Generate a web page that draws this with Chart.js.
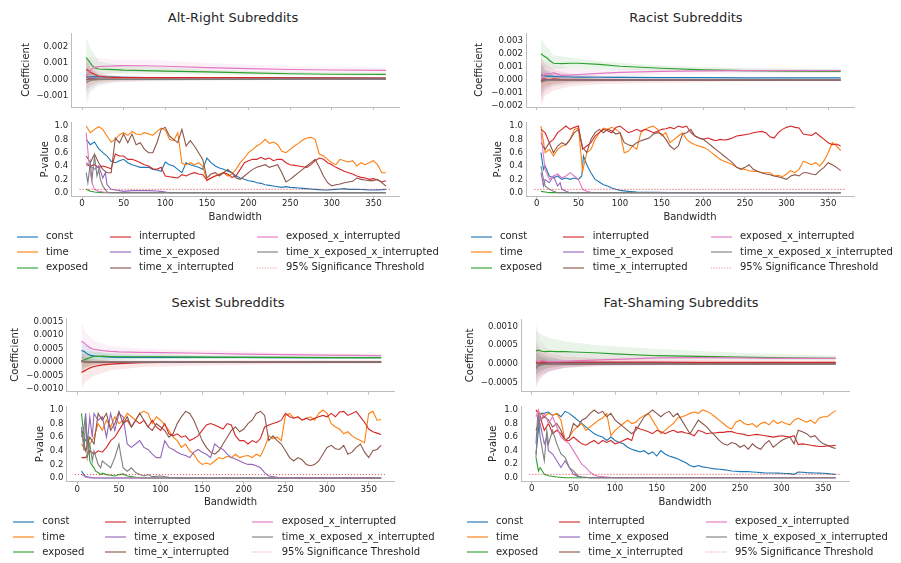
<!DOCTYPE html>
<html>
<head>
<meta charset="utf-8">
<script src="https://cdn.jsdelivr.net/npm/chart.js@4.4.1/dist/chart.umd.min.js"></script>
<style>
  html, body { margin: 0; padding: 0; background: #fff; }
  body { position: relative; width: 901px; height: 563px; overflow: hidden;
         font-family: "DejaVu Sans", sans-serif; color: #262626; }
  canvas { position: absolute; }
  .panel-title { position: absolute; font-size: 13px; line-height: 16px; white-space: nowrap;
                 transform: translateX(-50%); }
  .legend-text { position: absolute; font-size: 10px; line-height: 12px; white-space: nowrap; }
  .legend-line { position: absolute; }
</style>
</head>
<body>
<script>
// ---------- shared series description ----------
const seriesNames = ['const', 'time', 'exposed', 'interrupted', 'time_x_exposed',
  'time_x_interrupted', 'exposed_x_interrupted', 'time_x_exposed_x_interrupted'];
const palette = ['#1f77b4', '#ff7f0e', '#2ca02c', '#d62728', '#9467bd', '#8c564b', '#e377c2', '#7f7f7f'];
const thresholdLabel = '95% Significance Threshold';
const significanceLevel = 0.05;
const thresholdSpan = [-3, 370];

// bandwidth grids (days)
const bandwidths = [5,10,15,20,25,30,35,40,45,50,
  55,60,65,70,75,80,85,90,95,100,
  105,110,115,120,125,130,135,140,145,150,
  155,160,165,170,175,180,185,190,195,200,
  205,210,215,220,225,230,235,240,245,250,
  255,260,265,270,275,280,285,290,295,300,
  305,310,315,320,325,330,335,340,345,350,
  355,360,365];
const coefBandwidths = [5,8,12,16,20,30,40,50,75,100,150,200,250,300,365];
const bandBandwidths = [5,10,20,40,80,150,250,365];

const bandwidthTicks = [0,50,100,150,200,250,300,350];
const pvalueTicks = [0,0.2,0.4,0.6,0.8,1.0];

// ---------- Alt-Right ----------
const altRightCoefTicks = [-0.001,0,0.001,0.002];
const altRightCoef = [
  [0.00010,0.00013,0.00015,0.00016,0.00015,0.00014,0.00013,0.00012,0.00011,0.00010,0.00010,0.00009,0.00009,0.00008,0.00008],
  [0.00020,0.00010,0.00005,0.00003,0.00002,0.00001,0.00001,0,0,0,0,0,0,0,0],
  [0.00133,0.00115,0.00085,0.00068,0.00063,0.00061,0.00059,0.00056,0.00053,0.00050,0.00045,0.00039,0.00034,0.00031,0.00030],
  [0.00060,0.00052,0.00038,0.00028,0.00020,0.00014,0.00012,0.00011,0.00010,0.00010,0.00010,0.00010,0.00009,0.00009,0.00008],
  [0.00018,0.00009,0.00004,0.00002,0.00001,0,0,0,0,0,0,0,0,0,0],
  [-0.00005,0.00002,0.00001,0,0,0,0,0,0,0,0,0,0,0,0],
  [0.00020,0.00040,0.00065,0.00075,0.00078,0.00080,0.00082,0.00084,0.00083,0.00080,0.00072,0.00065,0.00060,0.00057,0.00055],
  [-0.00020,-0.00012,-0.00006,-0.00003,-0.00002,-0.00001,0,0,0,0,0,0,0,0,0]
];
const altRightLow = [
  [-0.0003,-0.0001,0,0.00004,0.00006,0.00007,0.00006,0.00006],
  [-0.0006,-0.0004,-0.0002,-0.0001,-0.00006,-0.00004,-0.00003,-0.00002],
  [0.0001,0.0003,0.0003,0.00035,0.00033,0.0003,0.00024,0.00021],
  [-0.0002,0,0,0.00003,0.00005,0.00006,0.00006,0.00005],
  [-0.0012,-0.0006,-0.0003,-0.00015,-0.0001,-0.00006,-0.00004,-0.00003],
  [-0.0008,-0.0004,-0.0002,-0.0001,-0.00006,-0.00004,-0.00003,-0.00002],
  [-0.0008,0,0.0003,0.0004,0.00045,0.0004,0.00038,0.00038],
  [-0.0016,-0.0008,-0.0004,-0.0002,-0.00012,-0.00008,-0.00005,-0.00004]
];
const altRightHigh = [
  [0.0005,0.0004,0.0003,0.00022,0.00016,0.00013,0.00011,0.0001],
  [0.0008,0.0005,0.0003,0.00015,0.00008,0.00005,0.00004,0.00003],
  [0.0026,0.0019,0.0011,0.0009,0.0008,0.0006,0.00045,0.0004],
  [0.0014,0.0009,0.0004,0.0002,0.00016,0.00014,0.00012,0.00011],
  [0.0014,0.0007,0.0003,0.00015,0.0001,0.00006,0.00004,0.00003],
  [0.0008,0.0004,0.0002,0.0001,0.00006,0.00004,0.00003,0.00002],
  [0.0012,0.0014,0.0013,0.0012,0.0012,0.001,0.0008,0.00072],
  [0.0012,0.0006,0.0003,0.00015,0.0001,0.00007,0.00005,0.00004]
];
// p-values: plain rows follow `bandwidths`, [bandwidth, p] rows are listed point by point
const altRightP = [
  [0.8,0.72,0.76,0.66,0.6,0.55,0.47,0.45,0.48,0.5,
   0.45,0.42,0.4,0.38,0.38,0.38,0.35,0.34,0.32,0.46,
   0.42,0.4,0.35,0.3,0.45,0.42,0.4,0.38,0.35,0.52,
   0.45,0.4,0.37,0.35,0.32,0.3,0.25,0.22,0.2,0.18,
   0.17,0.15,0.14,0.12,0.11,0.1,0.09,0.08,0.09,0.08,
   0.075,0.07,0.065,0.06,0.055,0.05,0.045,0.04,0.04,0.045,
   0.05,0.055,0.06,0.05,0.05,0.05,0.048,0.045,0.04,0.04,
   0.042,0.045,0.05],
  [1.0,0.9,0.95,0.99,0.95,0.85,0.76,0.8,0.87,0.9,
   0.86,0.92,0.88,0.87,0.9,0.88,0.86,0.92,0.97,0.94,
   0.8,0.78,0.9,0.44,0.42,0.45,0.42,0.45,0.4,0.18,
   0.22,0.25,0.28,0.3,0.25,0.28,0.35,0.45,0.52,0.6,
   0.65,0.7,0.74,0.8,0.74,0.76,0.72,0.62,0.6,0.65,
   0.7,0.74,0.79,0.82,0.83,0.8,0.58,0.55,0.5,0.45,
   0.42,0.5,0.48,0.46,0.48,0.4,0.45,0.42,0.45,0.48,
   0.42,0.3,0.3],
  [[5,0.05],[10,0.02],[15,0.01],[20,0.005],[25,0],[365,0]],
  [0.42,0.4,0.42,0.38,0.4,0.38,0.36,0.58,0.55,0.55,
   0.5,0.5,0.48,0.45,0.42,0.4,0.36,0.35,0.38,0.25,
   0.24,0.23,0.22,0.27,0.25,0.28,0.3,0.28,0.27,0.19,
   0.22,0.25,0.27,0.3,0.28,0.23,0.25,0.35,0.45,0.48,
   0.5,0.5,0.53,0.5,0.52,0.48,0.5,0.5,0.45,0.42,
   0.41,0.4,0.39,0.38,0.42,0.48,0.52,0.5,0.45,0.42,
   0.38,0.35,0.32,0.3,0.28,0.25,0.23,0.22,0.2,0.21,
   0.19,0.16,0.18],
  [[5,0.45],[10,0.4],[15,0.35],[20,0.4],[25,0.22],[28,0.3],[30,0.12],[35,0.05],[40,0.04],[50,0.02],
   [60,0.03],[70,0.03],[80,0.03],[90,0.025],[95,0.02],[100,0.01],[105,0],[365,0]],
  [0.55,0.45,0.58,0.45,0.35,0.3,0.3,0.82,0.75,0.88,
   0.75,0.88,0.72,0.75,0.65,0.6,0.6,0.75,0.95,0.98,
   0.85,0.8,0.75,0.95,0.7,0.78,0.7,0.6,0.5,0.22,
   0.28,0.3,0.25,0.3,0.35,0.3,0.22,0.2,0.25,0.3,
   0.35,0.38,0.4,0.42,0.38,0.4,0.42,0.3,0.16,0.2,
   0.25,0.3,0.35,0.4,0.45,0.5,0.38,0.25,0.15,0.1,
   0.12,0.13,0.15,0.16,0.17,0.22,0.2,0.19,0.18,0.18,
   0.2,0.15,0.1],
  [[5,0.9],[8,0.5],[10,0.3],[12,0.15],[15,0.05],[20,0.02],[25,0.01],[30,0],[365,0]],
  [[5,0.3],[7,0.15],[10,0.45],[12,0.2],[15,0.55],[18,0.25],[20,0.35],[22,0.2],[25,0.1],[28,0.05],
   [30,0.01],[35,0],[365,0]]
];

// ---------- Racist ----------
const racistCoefTicks = [-0.002,-0.001,0,0.001,0.002,0.003];
const racistCoef = [
  [0.00040,0.00032,0.00030,0.00030,0.00028,0.00025,0.00023,0.00022,0.00021,0.00020,0.00019,0.00018,0.00017,0.00017,0.00016],
  [0.00010,0.00005,0.00003,0.00002,0.00001,0,0,0,0,0,0,0,0,0,0],
  [0.00200,0.00185,0.00170,0.00145,0.00128,0.00125,0.00128,0.00128,0.00120,0.00105,0.00090,0.00078,0.00072,0.00068,0.00065],
  [-0.00010,0.00010,0.00005,0.00002,0.00008,0.00003,0.00002,0.00001,0.00001,0.00001,0,0,0,0,0],
  [0.00010,0.00005,0.00002,0.00001,0,0,0,0,0,0,0,0,0,0,0],
  [-0.00005,-0.00002,0,0,0,0,0,0,0,0,0,0,0,0,0],
  [0.00015,0.00035,0.00050,0.00045,0.00055,0.00035,0.00038,0.00042,0.00050,0.00058,0.00066,0.00070,0.00071,0.00071,0.00071],
  [-0.00015,-0.00008,-0.00004,-0.00002,-0.00001,0,0,0,0,0,0,0,0,0,0]
];
const racistLow = [
  [-0.0004,-0.0001,0,0.00008,0.0001,0.00012,0.00012,0.00012],
  [-0.0009,-0.0005,-0.0003,-0.00015,-0.0001,-0.00006,-0.00004,-0.00003],
  [0.0008,0.0009,0.0008,0.0009,0.0008,0.0007,0.0006,0.00054],
  [-0.0019,-0.0012,-0.0008,-0.0005,-0.0003,-0.0002,-0.00012,-0.0001],
  [-0.0012,-0.0007,-0.0004,-0.0002,-0.0001,-0.00006,-0.00004,-0.00003],
  [-0.0008,-0.0005,-0.0003,-0.00015,-0.0001,-0.00006,-0.00004,-0.00003],
  [-0.0014,-0.0006,-0.0002,0,0.0002,0.0004,0.0005,0.00055],
  [-0.0016,-0.0009,-0.0005,-0.0003,-0.00015,-0.0001,-0.00006,-0.00005]
];
const racistHigh = [
  [0.0012,0.0008,0.0006,0.0004,0.0003,0.00026,0.00022,0.0002],
  [0.0009,0.0005,0.0003,0.00015,0.0001,0.00006,0.00004,0.00003],
  [0.0032,0.0027,0.0019,0.0017,0.0014,0.0011,0.0009,0.0008],
  [0.0017,0.0012,0.0008,0.0005,0.0003,0.0002,0.00012,0.0001],
  [0.0012,0.0007,0.0004,0.0002,0.0001,0.00006,0.00004,0.00003],
  [0.0008,0.0005,0.0003,0.00015,0.0001,0.00006,0.00004,0.00003],
  [0.0018,0.0014,0.0012,0.0009,0.0008,0.0009,0.00088,0.00088],
  [0.0014,0.0008,0.0005,0.0003,0.00015,0.0001,0.00006,0.00005]
];
const racistP = [
  [[5,0.6],[8,0.35],[10,0.4],[15,0.25],[20,0.22],[25,0.25],[30,0.2],[35,0.22],[40,0.2],[45,0.22],
   [50,0.2],[54,0.25],[56,0.55],[60,0.42],[65,0.3],[70,0.2],[75,0.16],[80,0.12],[85,0.1],[90,0.07],
   [95,0.05],[100,0.035],[110,0.02],[120,0.01],[140,0.005],[160,0],[365,0]],
  [1.0,0.6,0.65,0.55,0.65,0.7,0.72,0.8,0.95,0.97,
   0.32,0.6,0.65,0.8,0.9,0.97,0.95,0.98,0.95,0.9,
   0.6,0.62,0.7,0.65,0.9,0.95,0.98,1.0,0.95,0.85,
   0.9,0.75,0.8,0.85,0.9,0.8,0.75,0.72,0.7,0.68,
   0.65,0.6,0.55,0.5,0.47,0.45,0.42,0.38,0.36,0.35,
   0.33,0.32,0.32,0.3,0.3,0.3,0.25,0.26,0.24,0.28,
   0.33,0.3,0.35,0.47,0.45,0.42,0.45,0.4,0.48,0.6,
   0.75,0.7,0.63],
  [[5,0.02],[10,0.01],[15,0],[365,0]],
  [0.95,0.9,0.75,0.8,0.9,0.95,1.0,0.95,0.98,1.0,
   0.65,0.7,0.75,0.85,0.9,0.95,0.93,0.9,0.98,1.0,
   0.95,0.9,0.92,0.95,0.92,0.95,0.93,0.9,0.92,0.95,
   0.96,0.98,0.96,1.0,0.98,1.0,0.9,0.85,0.82,0.8,
   0.82,0.8,0.78,0.8,0.79,0.8,0.82,0.85,0.86,0.87,
   0.88,0.9,0.91,0.92,0.9,0.84,0.82,0.9,0.95,0.98,
   1.0,0.98,0.97,0.88,0.87,0.86,0.9,0.85,0.8,0.75,
   0.72,0.73,0.7],
  [[5,0.3],[8,0.1],[10,0.2],[15,0.15],[20,0.25],[25,0.1],[28,0.15],[30,0.05],[35,0.02],[40,0],[365,0]],
  [0.75,0.65,0.75,0.6,0.7,0.75,0.72,0.8,0.9,0.95,
   0.68,0.6,0.8,0.9,0.95,0.9,0.95,0.93,0.88,0.9,
   0.75,0.72,0.7,0.75,0.78,0.8,0.82,0.88,0.9,0.88,
   0.8,0.7,0.65,0.7,0.88,0.9,0.95,0.85,0.82,0.8,
   0.75,0.7,0.65,0.6,0.55,0.5,0.45,0.38,0.35,0.38,
   0.42,0.35,0.32,0.3,0.28,0.27,0.25,0.24,0.22,0.2,
   0.25,0.27,0.25,0.3,0.3,0.28,0.27,0.33,0.38,0.45,
   0.42,0.38,0.33],
  [[5,0.9],[8,0.55],[10,0.35],[15,0.2],[20,0.25],[25,0.28],[30,0.22],[35,0.25],[40,0.3],[45,0.25],
   [50,0.2],[55,0.05],[60,0.02],[65,0.005],[70,0],[365,0]],
  [[5,0.4],[8,0.2],[10,0.1],[15,0.05],[20,0.02],[25,0],[365,0]]
];

// ---------- Sexist ----------
const sexistCoefTicks = [-0.001,-0.0005,0,0.0005,0.001,0.0015];
const sexistCoef = [
  [0.00043,0.00040,0.00030,0.00025,0.00023,0.00020,0.00019,0.00018,0.00018,0.00018,0.00018,0.00018,0.00017,0.00017,0.00017],
  [0.00003,0.00002,0.00001,0,0,0,0,0,0,0,0,0,0,0,0],
  [0.00003,0.00008,0.00013,0.00018,0.00021,0.00022,0.00021,0.00020,0.00020,0.00020,0.00019,0.00018,0.00018,0.00017,0.00017],
  [-0.00038,-0.00033,-0.00026,-0.00020,-0.00016,-0.00010,-0.00007,-0.00005,-0.00002,-0.00001,0,-0.00001,0,0.00001,0.00002],
  [0.00005,0.00003,0.00001,0,0,0,0,0,0,0,0,0,0,0,0],
  [0.00002,0.00001,0,0,0,0,0,0,0,0,0,0,0,0,0],
  [0.00077,0.00072,0.00060,0.00052,0.00047,0.00043,0.00040,0.00038,0.00036,0.00035,0.00033,0.00030,0.00028,0.00026,0.00024],
  [0.00005,0.00004,0.00003,0.00002,0.00002,0.00002,0.00001,0.00001,0.00001,0.00001,0.00001,0.00001,0.00001,0.00001,0.00001]
];
const sexistLow = [
  [0.0001,0.0001,0.00008,0.0001,0.00012,0.00013,0.00013,0.00013],
  [-0.0003,-0.0002,-0.0001,-0.00005,-0.00003,-0.00002,-0.00001,-0.00001],
  [-0.0004,-0.0002,0,0.00008,0.0001,0.00012,0.00012,0.00012],
  [-0.00095,-0.0007,-0.0005,-0.0003,-0.00018,-0.00012,-0.00008,-0.00005],
  [-0.0003,-0.0002,-0.0001,-0.00005,-0.00003,-0.00002,-0.00001,-0.00001],
  [-0.0002,-0.00015,-0.0001,-0.00005,-0.00003,-0.00002,-0.00001,-0.00001],
  [0.0001,0.00015,0.0002,0.00022,0.00022,0.00022,0.0002,0.0002],
  [-0.0004,-0.0003,-0.0002,-0.0001,-0.00006,-0.00004,-0.00003,-0.00002]
];
const sexistHigh = [
  [0.0008,0.0006,0.0004,0.0003,0.00026,0.00023,0.00022,0.0002],
  [0.0003,0.0002,0.0001,0.00005,0.00003,0.00002,0.00001,0.00001],
  [0.0005,0.0004,0.0004,0.00035,0.0003,0.00026,0.00023,0.00021],
  [0.0002,0.0001,0.00005,0.00005,0.00006,0.00007,0.00008,0.00008],
  [0.0003,0.0002,0.0001,0.00005,0.00003,0.00002,0.00001,0.00001],
  [0.0002,0.00015,0.0001,0.00005,0.00003,0.00002,0.00001,0.00001],
  [0.0015,0.0011,0.0008,0.0006,0.0005,0.00045,0.00035,0.0003],
  [0.0004,0.0003,0.0002,0.0001,0.00006,0.00004,0.00003,0.00002]
];
const sexistP = [
  [[5,0.1],[8,0.05],[10,0.02],[15,0.01],[20,0],[365,0]],
  [0.5,0.4,0.5,0.6,0.8,0.7,0.85,0.75,0.9,0.8,
   0.85,0.95,0.9,0.85,0.95,0.98,0.95,0.8,0.9,0.85,
   0.78,0.7,0.6,0.55,0.45,0.5,0.4,0.35,0.25,0.2,
   0.22,0.2,0.25,0.3,0.28,0.32,0.3,0.35,0.3,0.32,
   0.33,0.3,0.35,0.32,0.45,0.62,0.58,0.6,0.55,0.92,
   0.95,0.88,0.9,0.85,0.88,0.9,0.85,0.95,1.0,0.95,
   0.8,0.75,0.72,0.65,0.68,0.62,0.58,0.55,0.52,0.95,
   0.98,0.85,0.86],
  [[5,0.95],[8,0.6],[10,0.55],[13,0.6],[15,0.25],[17,0.2],[20,0.15],[22,0.1],[25,0.08],[28,0.05],
   [30,0.07],[35,0.05],[40,0.04],[45,0.03],[50,0.05],[55,0.06],[60,0.03],[65,0.02],[70,0.01],[80,0],[365,0]],
  [0.3,0.3,0.4,0.35,0.4,0.38,0.45,0.55,0.6,0.7,
   0.8,0.85,0.75,0.85,0.8,0.85,0.75,0.85,0.75,0.7,
   0.8,0.65,0.62,0.65,0.6,0.62,0.55,0.58,0.62,0.7,
   0.78,0.8,0.78,0.75,0.72,0.8,0.78,0.62,0.55,0.55,
   0.5,0.55,0.52,0.58,0.75,0.78,0.8,0.82,0.85,0.95,
   0.9,0.88,0.9,0.85,0.88,0.85,0.88,0.9,0.92,0.9,
   0.95,0.9,0.97,0.98,0.92,0.95,0.98,0.9,0.82,0.72,
   0.68,0.66,0.64],
  [[5,0.6],[8,0.75],[10,0.95],[12,0.5],[15,0.9],[18,0.6],[20,0.95],[25,0.85],[30,0.9],[35,0.6],
   [40,0.95],[45,0.7],[50,0.95],[55,0.9],[60,0.5],[65,0.45],[70,0.5],[75,0.55],[80,0.45],[85,0.42],
   [90,0.35],[95,0.3],[100,0.3],[105,0.55],[110,0.45],[115,0.42],[120,0.38],[125,0.35],[130,0.33],[135,0.3],
   [140,0.38],[145,0.42],[150,0.38],[155,0.35],[160,0.3],[165,0.5],[170,0.45],[175,0.42],[180,0.35],[185,0.3],
   [190,0.28],[195,0.25],[200,0.22],[205,0.2],[210,0.2],[215,0.18],[220,0.15],[225,0.08],[230,0.03],[240,0.01],
   [250,0.005],[260,0],[365,0]],
  [0.7,0.4,0.6,0.5,0.95,0.85,0.95,0.7,0.8,0.98,
   0.8,0.9,0.75,0.85,0.95,0.85,0.75,0.7,0.8,0.75,
   0.7,0.6,0.65,0.8,0.9,0.98,0.95,0.85,0.7,0.55,
   0.45,0.38,0.35,0.4,0.5,0.6,0.7,0.75,0.68,0.72,
   0.8,0.85,0.95,0.98,0.92,0.55,0.62,0.55,0.5,0.4,
   0.3,0.25,0.3,0.27,0.2,0.18,0.2,0.25,0.35,0.45,
   0.48,0.43,0.42,0.48,0.35,0.38,0.45,0.5,0.38,0.3,
   0.4,0.42,0.48],
  [[5,0.05],[8,0.03],[10,0.01],[15,0],[365,0]],
  [[5,0.75],[8,0.4],[10,0.9],[12,0.3],[15,0.5],[18,0.25],[20,0.4],[25,0.2],[28,0.15],[30,0.25],
   [35,0.2],[40,0.15],[45,0.3],[50,0.5],[52,0.35],[55,0.15],[60,0.1],[65,0.15],[70,0.08],[75,0.05],
   [80,0.03],[85,0.05],[90,0.02],[100,0.03],[110,0.01],[120,0],[365,0]]
];

// ---------- Fat-Shaming ----------
const fatCoefTicks = [-0.0005,0,0.0005,0.001];
const fatCoef = [
  [0.00002,0.00003,0.00003,0.00003,0.00003,0.00003,0.00003,0.00003,0.00003,0.00003,0.00003,0.00003,0.00003,0.00003,0.00003],
  [0.00001,0,0,0,0,0,0,0,0,0,0,0,0,0,0],
  [0.00035,0.00037,0.00034,0.00033,0.00034,0.00033,0.00033,0.00032,0.00030,0.00027,0.00022,0.00020,0.00018,0.00016,0.00015],
  [0.00003,0.00006,0.00005,0.00005,0.00005,0.00005,0.00005,0.00005,0.00005,0.00005,0.00005,0.00004,0.00004,0.00004,0.00004],
  [-0.00005,-0.00002,-0.00001,0,0,0,0,0,0,0,0,0,0,0,0],
  [0.00002,0.00001,0,0,0,0,0,0,0,0,0,0,0,0,0],
  [0.00010,0.00005,0.00010,0.00008,0.00006,0.00006,0.00007,0.00008,0.00010,0.00012,0.00016,0.00017,0.00016,0.00015,0.00015],
  [-0.00012,-0.00005,-0.00002,-0.00001,0,0,0,0,0,0,0,0,0,0,0]
];
const fatLow = [
  [-0.0003,-0.0002,-0.0001,-0.00005,-0.00002,0,0.00001,0.00001],
  [-0.0002,-0.00015,-0.0001,-0.00005,-0.00003,-0.00002,-0.00001,-0.00001],
  [-0.0002,-0.0001,0,0.00005,0.0001,0.00012,0.00012,0.0001],
  [-0.0005,-0.0003,-0.0002,-0.0001,-0.00005,-0.00002,0,0],
  [-0.0004,-0.0003,-0.0002,-0.0001,-0.00005,-0.00003,-0.00002,-0.00001],
  [-0.0003,-0.0002,-0.0001,-0.00005,-0.00003,-0.00002,-0.00001,-0.00001],
  [-0.00065,-0.0004,-0.0002,-0.0001,0,0.00006,0.0001,0.0001],
  [-0.0006,-0.0004,-0.0002,-0.0001,-0.00006,-0.00004,-0.00003,-0.00002]
];
const fatHigh = [
  [0.0003,0.0002,0.00015,0.0001,0.00008,0.00005,0.00004,0.00004],
  [0.0002,0.00015,0.0001,0.00005,0.00003,0.00002,0.00001,0.00001],
  [0.0009,0.0008,0.0007,0.0006,0.0005,0.0004,0.0003,0.00022],
  [0.0006,0.0004,0.0003,0.0002,0.00015,0.00011,0.0001,0.00009],
  [0.0004,0.0003,0.0002,0.0001,0.00005,0.00003,0.00002,0.00001],
  [0.0003,0.0002,0.0001,0.00005,0.00003,0.00002,0.00001,0.00001],
  [0.0011,0.0006,0.0004,0.0003,0.00026,0.00025,0.00022,0.0002],
  [0.0005,0.0003,0.0002,0.0001,0.00006,0.00004,0.00003,0.00002]
];
const fatP = [
  [0.35,0.95,0.95,0.97,0.92,0.95,0.9,0.98,0.95,0.9,
   0.85,0.8,0.75,0.7,0.65,0.62,0.6,0.55,0.6,0.55,
   0.52,0.5,0.45,0.42,0.4,0.38,0.4,0.35,0.38,0.32,
   0.4,0.35,0.32,0.3,0.28,0.25,0.22,0.18,0.16,0.18,
   0.16,0.15,0.14,0.13,0.125,0.12,0.11,0.1,0.095,0.09,
   0.09,0.09,0.085,0.08,0.075,0.07,0.07,0.07,0.068,0.065,
   0.062,0.06,0.05,0.085,0.08,0.075,0.072,0.07,0.068,0.065,
   0.06,0.055,0.05],
  [1.0,0.95,0.9,0.95,0.92,0.95,0.85,0.55,0.6,0.7,
   0.75,0.8,0.7,0.75,0.8,0.85,0.88,0.95,0.62,0.7,
   0.75,0.8,0.85,0.8,0.82,0.88,0.92,0.95,0.85,0.75,
   0.65,0.7,0.75,0.8,0.88,0.9,0.92,0.95,0.97,0.95,
   1.0,0.98,0.95,0.9,0.85,0.8,0.75,0.72,0.82,0.85,
   0.8,0.78,0.8,0.75,0.8,0.82,0.78,0.85,0.8,0.83,
   0.8,0.78,0.85,0.88,0.85,0.82,0.85,0.8,0.88,0.9,
   0.9,0.95,0.99],
  [[5,0.3],[8,0.1],[10,0.15],[15,0.05],[20,0.03],[30,0.01],[40,0],[365,0]],
  [1.0,0.9,0.7,0.8,0.65,0.7,0.65,0.55,0.55,0.6,
   0.55,0.5,0.48,0.52,0.55,0.5,0.55,0.52,0.55,0.5,
   0.52,0.55,0.58,0.55,0.75,0.72,0.7,0.68,0.65,0.7,
   0.68,0.65,0.68,0.7,0.67,0.68,0.66,0.65,0.62,0.7,
   0.68,0.65,0.66,0.66,0.67,0.67,0.68,0.68,0.66,0.65,
   0.64,0.62,0.63,0.64,0.63,0.62,0.61,0.6,0.61,0.62,
   0.61,0.6,0.62,0.49,0.5,0.49,0.48,0.47,0.46,0.46,
   0.47,0.47,0.48],
  [[5,0.5],[7,0.9],[10,0.8],[15,0.5],[18,0.6],[20,0.4],[25,0.35],[30,0.25],[35,0.15],[40,0.25],
   [45,0.15],[50,0.05],[55,0.02],[60,0.01],[70,0],[365,0]],
  [0.7,0.85,0.9,0.85,0.75,0.8,0.7,0.55,0.6,0.8,
   0.75,0.85,0.88,0.95,1.0,0.95,0.98,0.9,0.95,0.85,
   0.8,0.75,0.7,0.65,0.7,0.8,0.9,0.95,1.0,0.95,
   0.9,0.95,0.98,0.9,0.95,0.85,0.75,0.65,0.75,0.85,
   0.8,0.75,0.68,0.62,0.55,0.5,0.48,0.52,0.5,0.45,
   0.48,0.42,0.5,0.45,0.42,0.5,0.55,0.45,0.5,0.55,
   0.58,0.6,0.5,0.7,0.68,0.65,0.6,0.62,0.55,0.5,
   0.48,0.45,0.43],
  [[5,0.9],[8,1.0],[10,0.85],[15,0.95],[20,0.8],[25,0.9],[30,0.75],[35,0.6],[40,0.55],[45,0.5],
   [50,0.4],[55,0.3],[60,0.2],[65,0.15],[70,0.08],[75,0.04],[80,0.02],[90,0.01],[100,0],[365,0]],
  [[5,0.3],[8,0.95],[10,0.6],[15,0.25],[18,0.7],[20,0.5],[25,0.7],[30,0.5],[35,0.35],[40,0.3],
   [45,0.15],[50,0.1],[55,0.03],[60,0.01],[70,0],[365,0]]
];

// ---------- drawing helpers ----------
const INK = '#262626';
const SPINE = '#bdbdbd';
Chart.defaults.font.family = "'DejaVu Sans', sans-serif";
Chart.defaults.color = INK;

function withAlpha(hex, a) {
  const n = parseInt(hex.slice(1), 16);
  return `rgba(${n >> 16},${(n >> 8) & 255},${n & 255},${a})`;
}
function toPoints(row) {
  if (typeof row[0] === 'number') return bandwidths.map((x, k) => ({ x, y: row[k] }));
  return row.map(([x, y]) => ({ x, y }));
}
function formatTick(v, decimals) {
  const s = Math.abs(v) < 1e-12 ? (0).toFixed(decimals) : v.toFixed(decimals);
  return s.replace('-', '\u2212');
}

function coefDatasets(coef, low, high) {
  const ds = [];
  seriesNames.forEach((name, i) => {
    ds.push({ label: name + ' upper', data: bandBandwidths.map((x, k) => ({ x, y: high[i][k] })),
      borderWidth: 0, pointRadius: 0, fill: '+1', backgroundColor: withAlpha(palette[i], 0.1), order: 100 });
    ds.push({ label: name + ' lower', data: bandBandwidths.map((x, k) => ({ x, y: low[i][k] })),
      borderWidth: 0, pointRadius: 0, fill: false, order: 100 });
  });
  seriesNames.forEach((name, i) => {
    ds.push({ label: name, data: coefBandwidths.map((x, k) => ({ x, y: coef[i][k] })),
      borderColor: palette[i], borderWidth: 1.2, pointRadius: 0, fill: false, order: 20 - i });
  });
  return ds;
}
function pvalueDatasets(rows) {
  const ds = seriesNames.map((name, i) => ({ label: name, data: toPoints(rows[i]),
    borderColor: palette[i], borderWidth: 1.1, pointRadius: 0, fill: false, order: 20 - i }));
  ds.push({ label: thresholdLabel, data: thresholdSpan.map(x => ({ x, y: significanceLevel })),
    borderColor: withAlpha('#d62728', 0.75), borderWidth: 1, borderDash: [1.2, 1.8],
    pointRadius: 0, fill: false, order: 0 });
  return ds;
}

// one axes box: area = plotting rectangle on the page
function drawAxes(cfg) {
  const a = cfg.area;
  const left = Math.round(cfg.yTitleX - 6);
  const top = Math.round(a.t - 10);
  const yAxisW = a.l - left;
  const padTop = a.t - top;
  const bottomEdge = a.t + a.h;
  const xAxisH = cfg.xTitleY ? (cfg.xTitleY + 6 - bottomEdge) : 4;
  const width = Math.ceil(yAxisW + a.w + 4);
  const height = Math.ceil(padTop + a.h + xAxisH + (cfg.xTitleY ? 2 : 6));
  const padRight = width - yAxisW - a.w;
  const padBottom = height - padTop - a.h - xAxisH;

  const canvas = document.createElement('canvas');
  canvas.width = width; canvas.height = height;
  canvas.style.left = left + 'px'; canvas.style.top = top + 'px';
  canvas.style.width = width + 'px'; canvas.style.height = height + 'px';
  document.body.appendChild(canvas);

  return new Chart(canvas, {
    type: 'line',
    data: { datasets: cfg.datasets },
    options: {
      responsive: false, animation: false, devicePixelRatio: 1,
      layout: { padding: { left: 0, top: padTop, right: padRight, bottom: padBottom } },
      plugins: { legend: { display: false }, tooltip: { enabled: false },
        filler: { propagate: false, drawTime: 'beforeDatasetsDraw' } },
      elements: { line: { tension: 0 } },
      scales: {
        x: {
          type: 'linear', min: -13, max: 381,
          afterBuildTicks: s => { s.ticks = bandwidthTicks.map(v => ({ value: v })); },
          afterFit: s => { s.height = xAxisH; },
          grid: { display: true, drawOnChartArea: false, drawTicks: true, tickLength: 3, color: SPINE },
          border: { display: true, color: SPINE, width: 1 },
          ticks: { display: !!cfg.xTitleY, autoSkip: false, maxRotation: 0, padding: 0,
            font: { size: 8.6 }, color: INK, callback: v => String(v) },
          title: { display: !!cfg.xTitleY, text: 'Bandwidth', font: { size: 10, lineHeight: 1.2 },
            padding: 0, color: INK }
        },
        y: {
          min: cfg.yMin, max: cfg.yMax,
          afterBuildTicks: s => { s.ticks = cfg.yTicks.map(v => ({ value: v })); },
          afterFit: s => { s.width = yAxisW; },
          grid: { display: true, drawOnChartArea: false, drawTicks: false, color: SPINE },
          border: { display: true, color: SPINE, width: 1 },
          ticks: { padding: 3, font: { size: 8.6 }, color: INK,
            callback: v => formatTick(v, cfg.decimals) },
          title: { display: true, text: cfg.yTitle, font: { size: 10, lineHeight: 1.2 },
            padding: 0, color: INK }
        }
      }
    }
  });
}

function addText(cls, text, x, y) {
  const d = document.createElement('div');
  d.className = cls; d.textContent = text;
  d.style.left = x + 'px'; d.style.top = y + 'px';
  document.body.appendChild(d);
}
function addLegend(lineXs, textXs, rowYs) {
  const labels = seriesNames.concat([thresholdLabel]);
  labels.forEach((label, k) => {
    const col = Math.floor(k / 3), row = k % 3;
    const y = rowYs[row];
    const svgNS = 'http://www.w3.org/2000/svg';
    const svg = document.createElementNS(svgNS, 'svg');
    svg.setAttribute('width', '22'); svg.setAttribute('height', '6');
    svg.setAttribute('class', 'legend-line');
    svg.style.left = lineXs[col] + 'px'; svg.style.top = (y - 3) + 'px';
    const ln = document.createElementNS(svgNS, 'line');
    ln.setAttribute('x1', '0'); ln.setAttribute('x2', '21');
    ln.setAttribute('y1', '3'); ln.setAttribute('y2', '3');
    if (k < 8) {
      ln.setAttribute('stroke', withAlpha(palette[k], 0.75));
      ln.setAttribute('stroke-width', '1.5');
    } else {
      ln.setAttribute('stroke', withAlpha('#d62728', 0.45));
      ln.setAttribute('stroke-width', '1');
      ln.setAttribute('stroke-dasharray', '1.2 1.4');
    }
    svg.appendChild(ln);
    document.body.appendChild(svg);
    addText('legend-text', label, textXs[col], y - 6.5);
  });
}

// ---------- panels ----------
const panels = [
  { title: 'Alt-Right Subreddits', titleX: 233, titleY: 9.5,
    coef: { area: { l: 71.2, t: 33, w: 328, h: 74 }, yTitleX: 25.7, yMin: -0.0017, yMax: 0.00284,
            yTicks: altRightCoefTicks, decimals: 3, rows: [altRightCoef, altRightLow, altRightHigh] },
    pval: { area: { l: 71.2, t: 122.7, w: 328, h: 73.3 }, yTitleX: 45.3, xTitleY: 217.3, rows: altRightP },
    legend: { lines: [17, 110, 257], texts: [46, 139, 286], rows: [236.7, 252.3, 267.7] } },
  { title: 'Racist Subreddits', titleX: 686, titleY: 9.5,
    coef: { area: { l: 526, t: 33, w: 328, h: 74 }, yTitleX: 479.3, yMin: -0.00206, yMax: 0.00359,
            yTicks: racistCoefTicks, decimals: 3, rows: [racistCoef, racistLow, racistHigh] },
    pval: { area: { l: 526, t: 122.7, w: 328, h: 73.3 }, yTitleX: 498.3, xTitleY: 217.3, rows: racistP },
    legend: { lines: [471, 563, 711], texts: [500, 592.7, 740], rows: [236.7, 252.3, 267.7] } },
  { title: 'Sexist Subreddits', titleX: 228, titleY: 294.7,
    coef: { area: { l: 66.5, t: 318.3, w: 328, h: 73.4 }, yTitleX: 15, yMin: -0.00109, yMax: 0.00162,
            yTicks: sexistCoefTicks, decimals: 4, rows: [sexistCoef, sexistLow, sexistHigh] },
    pval: { area: { l: 66.5, t: 406.6, w: 328, h: 74.8 }, yTitleX: 40, xTitleY: 502, rows: sexistP },
    legend: { lines: [12.7, 105, 252.3], texts: [42.3, 134.3, 281.7], rows: [521.7, 537.3, 552.3] } },
  { title: 'Fat-Shaming Subreddits', titleX: 681, titleY: 294.7,
    coef: { area: { l: 521, t: 319, w: 328, h: 72.7 }, yTitleX: 470, yMin: -0.00074, yMax: 0.0012,
            yTicks: fatCoefTicks, decimals: 4, rows: [fatCoef, fatLow, fatHigh] },
    pval: { area: { l: 521, t: 406.6, w: 328, h: 74.5 }, yTitleX: 493.3, xTitleY: 502, rows: fatP },
    legend: { lines: [467.3, 559.3, 706], texts: [496, 588.3, 735], rows: [521.7, 537.3, 552.3] } }
];

panels.forEach(p => {
  addText('panel-title', p.title, p.titleX, p.titleY);
  drawAxes({ area: p.coef.area, yTitleX: p.coef.yTitleX, yTitle: 'Coefficient',
    yMin: p.coef.yMin, yMax: p.coef.yMax, yTicks: p.coef.yTicks, decimals: p.coef.decimals,
    datasets: coefDatasets(...p.coef.rows) });
  drawAxes({ area: p.pval.area, yTitleX: p.pval.yTitleX, yTitle: 'P-value', xTitleY: p.pval.xTitleY,
    yMin: -0.05, yMax: 1.05, yTicks: pvalueTicks, decimals: 1,
    datasets: pvalueDatasets(p.pval.rows) });
  addLegend(p.legend.lines, p.legend.texts, p.legend.rows);
});
</script>
</body>
</html>
